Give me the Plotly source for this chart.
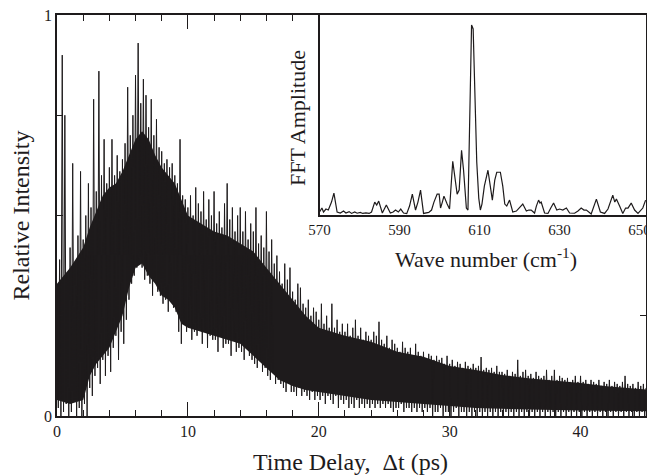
import plotly.graph_objects as go

# ---------------- main trace: time-resolved intensity ----------------
# signal, one value every 0.1 ps from 0 to 45 ps
intensity = [
    0.30, 0.02, 0.39, 0.00, 0.90, 0.01, 0.75, 0.03, 0.35, 0.00,
    0.42, 0.01, 0.63, 0.04, 0.38, 0.00, 0.45, 0.02, 0.61, 0.00,
    0.44, 0.03, 0.50, 0.00, 0.58, 0.07, 0.52, 0.05, 0.79, 0.10,
    0.56, 0.12, 0.86, 0.08, 0.60, 0.14, 0.69, 0.10, 0.58, 0.15,
    0.62, 0.11, 0.69, 0.17, 0.60, 0.20, 0.65, 0.14, 0.61, 0.21,
    0.64, 0.18, 0.68, 0.24, 0.82, 0.29, 0.70, 0.33, 0.75, 0.35,
    0.85, 0.37, 0.93, 0.38, 0.78, 0.37, 0.84, 0.34, 0.80, 0.35,
    0.72, 0.33, 0.79, 0.30, 0.70, 0.34, 0.74, 0.31, 0.67, 0.30,
    0.66, 0.28, 0.63, 0.29, 0.64, 0.26, 0.62, 0.29, 0.63, 0.27,
    0.60, 0.26, 0.58, 0.21, 0.69, 0.18, 0.55, 0.23, 0.54, 0.21,
    0.52, 0.22, 0.55, 0.19, 0.50, 0.21, 0.57, 0.20, 0.53, 0.22,
    0.51, 0.18, 0.56, 0.21, 0.49, 0.17, 0.54, 0.20, 0.50, 0.19,
    0.56, 0.19, 0.48, 0.16, 0.51, 0.20, 0.47, 0.17, 0.53, 0.18,
    0.58, 0.18, 0.49, 0.15, 0.52, 0.19, 0.46, 0.16, 0.50, 0.17,
    0.52, 0.16, 0.46, 0.14, 0.51, 0.17, 0.44, 0.15, 0.48, 0.14,
    0.46, 0.13, 0.52, 0.12, 0.43, 0.14, 0.45, 0.11, 0.42, 0.12,
    0.51, 0.10, 0.41, 0.09, 0.44, 0.11, 0.38, 0.08, 0.40, 0.09,
    0.36, 0.08, 0.33, 0.07, 0.38, 0.06, 0.34, 0.08, 0.37, 0.06,
    0.31, 0.06, 0.29, 0.05, 0.33, 0.07, 0.32, 0.05, 0.28, 0.06,
    0.27, 0.05, 0.29, 0.04, 0.25, 0.06, 0.27, 0.04, 0.26, 0.05,
    0.24, 0.04, 0.28, 0.05, 0.23, 0.03, 0.25, 0.05, 0.22, 0.04,
    0.28, 0.03, 0.22, 0.05, 0.24, 0.02, 0.21, 0.04, 0.23, 0.03,
    0.21, 0.04, 0.23, 0.02, 0.20, 0.03, 0.22, 0.02, 0.24, 0.04,
    0.20, 0.02, 0.22, 0.03, 0.19, 0.02, 0.21, 0.03, 0.20, 0.02,
    0.19, 0.03, 0.21, 0.02, 0.20, 0.03, 0.235, 0.02, 0.19, 0.03,
    0.18, 0.02, 0.20, 0.03, 0.17, 0.02, 0.19, 0.01, 0.18, 0.02,
    0.17, 0.02, 0.16, 0.03, 0.185, 0.01, 0.17, 0.02, 0.16, 0.02,
    0.17, 0.01, 0.15, 0.02, 0.18, 0.01, 0.16, 0.02, 0.15, 0.01,
    0.16, 0.02, 0.14, 0.01, 0.155, 0.02, 0.15, 0.00, 0.14, 0.01,
    0.15, 0.01, 0.14, 0.02, 0.145, 0.00, 0.13, 0.01, 0.15, 0.01,
    0.13, 0.00, 0.14, 0.01, 0.125, 0.02, 0.135, 0.00, 0.13, 0.01,
    0.12, 0.01, 0.135, 0.00, 0.125, 0.01, 0.12, 0.00, 0.13, 0.01,
    0.12, 0.00, 0.125, 0.01, 0.147, 0.00, 0.115, 0.01, 0.12, 0.00,
    0.115, 0.01, 0.12, 0.00, 0.11, 0.01, 0.125, 0.00, 0.11, 0.01,
    0.11, 0.00, 0.105, 0.01, 0.115, 0.00, 0.10, 0.01, 0.11, 0.00,
    0.105, 0.01, 0.14, 0.00, 0.10, 0.01, 0.11, 0.00, 0.115, 0.01,
    0.10, 0.00, 0.105, 0.01, 0.095, 0.00, 0.11, 0.01, 0.10, 0.00,
    0.095, 0.01, 0.10, 0.00, 0.115, 0.01, 0.09, 0.00, 0.10, 0.01,
    0.115, 0.00, 0.09, 0.01, 0.10, 0.00, 0.095, 0.01, 0.09, 0.00,
    0.095, 0.01, 0.085, 0.00, 0.09, 0.01, 0.10, 0.00, 0.085, 0.01,
    0.10, 0.00, 0.085, 0.01, 0.09, 0.00, 0.08, 0.01, 0.09, 0.00,
    0.085, 0.01, 0.08, 0.00, 0.09, 0.01, 0.075, 0.00, 0.085, 0.01,
    0.08, 0.00, 0.09, 0.01, 0.075, 0.00, 0.085, 0.01, 0.08, 0.00,
    0.075, 0.01, 0.085, 0.00, 0.10, 0.01, 0.08, 0.00, 0.075, 0.01,
    0.08, 0.00, 0.07, 0.01, 0.085, 0.00, 0.075, 0.01, 0.08, 0.00,
    0.07,
]
time_ps = [round(0.1 * i, 1) for i in range(len(intensity))]

# dense core of the trace (solid black band)
body_t = [0, 1, 2, 2.5, 3, 3.5, 4, 4.5, 5, 5.5, 6, 6.5, 7, 7.5, 8, 8.5,
          9, 9.5, 10, 11, 12, 13, 14, 15, 16, 17, 18, 19, 20, 21, 22, 24, 26, 28,
          30, 32, 34, 36, 38, 40, 42, 45]
body_hi = [0.33, 0.37, 0.42, 0.47, 0.51, 0.55, 0.57, 0.58, 0.61, 0.65,
           0.69, 0.71, 0.69, 0.65, 0.62, 0.60, 0.58, 0.54, 0.50, 0.48,
           0.46, 0.45, 0.43, 0.41, 0.37, 0.33, 0.29, 0.25, 0.22, 0.21,
           0.20, 0.185, 0.16, 0.148, 0.125, 0.115, 0.102, 0.094, 0.088,
           0.082, 0.074, 0.066]
body_lo = [0.04, 0.03, 0.04, 0.10, 0.13, 0.15, 0.17, 0.21, 0.25, 0.32,
           0.37, 0.38, 0.35, 0.33, 0.30, 0.29, 0.27, 0.23, 0.22, 0.21,
           0.20, 0.19, 0.18, 0.15, 0.12, 0.09, 0.075, 0.065, 0.06, 0.055,
           0.05, 0.04, 0.035, 0.03, 0.025, 0.02, 0.018, 0.016, 0.015,
           0.014, 0.013, 0.012]

x_tickvals = [0, 10, 20, 30, 40]
y_tickvals = [0, 1]

# ---------------- inset: FFT spectrum ----------------
wavenumber = [570.0, 570.6, 571.0, 571.6, 572.2, 573.0, 573.6, 574.4, 575.2, 576.0,
              576.6, 577.4, 578.0, 578.8, 579.4, 580.2, 580.8, 581.6, 582.4, 583.0,
              583.8, 584.3, 584.8, 585.7, 586.7, 587.7, 588.4, 589.0, 589.7, 590.3,
              591.0, 591.8, 592.5, 593.2, 594.0, 594.6, 595.25, 596.0, 597.3, 598.0,
              598.6, 599.4, 599.9, 600.25, 600.7, 601.1, 601.9, 602.5, 603.3, 603.8,
              604.4, 604.9, 605.5, 606.0, 606.7, 607.1, 608.0, 608.4, 609.3, 609.8,
              610.2, 610.6, 611.2, 612.1, 612.6, 613.2, 613.8, 614.3, 615.2, 615.8,
              616.3, 616.8, 617.5, 618.3, 619.2, 620.0, 620.8, 621.7, 622.3, 622.9,
              623.75, 624.2, 624.75, 625.1, 625.4, 626.25, 627.1, 627.8, 628.5, 629.3,
              630.0, 630.8, 631.7, 632.5, 633.75, 634.6, 635.4, 636.1, 636.7, 637.9,
              638.6, 639.2, 640.2, 641.25, 642.1, 642.8, 643.3, 643.8, 644.2, 645.0,
              645.8, 646.5, 647.1, 647.9, 648.75, 649.6, 650.4, 650.8, 651.5]
fft_amp = [0.01, 0.03, 0.01, 0.025, 0.02, 0.06, 0.105, 0.01, 0.005, 0.015,
           0.005, 0.012, 0.003, 0.01, 0.004, 0.008, 0.003, 0.006, 0.003, 0.01,
           0.06, 0.045, 0.065, 0.005, 0.045, 0.005, 0.01, 0.02, 0.01, 0.025,
           0.005, 0.002, 0.04, 0.10, 0.02, 0.06, 0.12, 0.003, 0.008, 0.02,
           0.06, 0.10, 0.10, 0.03, 0.06, 0.09, 0.05, 0.025, 0.265, 0.18,
           0.10, 0.12, 0.32, 0.22, 0.03, 0.02, 0.95, 0.93, 0.26, 0.08,
           0.02, 0.05, 0.14, 0.22, 0.16, 0.07, 0.17, 0.21, 0.21, 0.14,
           0.05, 0.04, 0.07, 0.01, 0.015, 0.03, 0.05, 0.015, 0.02, 0.02,
           0.005, 0.04, 0.07, 0.055, 0.06, 0.005, 0.003, 0.03, 0.055, 0.02,
           0.025, 0.02, 0.03, 0.005, 0.004, 0.015, 0.03, 0.02, 0.02, 0.0,
           0.04, 0.075, 0.01, 0.003, 0.025, 0.06, 0.095, 0.06, 0.075, 0.04,
           0.003, 0.03, 0.03, 0.055, 0.02, 0.003, 0.02, 0.03, 0.07]
inset_tickvals = [570, 590, 610, 630, 650]

INK = "#1e1b1c"
FONT = "Liberation Serif"

fig = go.Figure()

fig.add_trace(go.Scatter(x=body_t, y=body_lo, mode="lines", line=dict(width=0, color=INK),
                         hoverinfo="skip", showlegend=False))
fig.add_trace(go.Scatter(x=body_t, y=body_hi, mode="lines", line=dict(width=0, color=INK),
                         fill="tonexty", fillcolor=INK, hoverinfo="skip", showlegend=False))
fig.add_trace(go.Scatter(x=time_ps, y=intensity, mode="lines",
                         line=dict(width=1, color=INK), showlegend=False))

fig.add_trace(go.Scatter(x=wavenumber, y=fft_amp, mode="lines", xaxis="x2", yaxis="y2",
                         line=dict(width=1.2, color=INK), showlegend=False))

axis_common = dict(showgrid=False, zeroline=False, showline=True, linecolor=INK,
                   linewidth=1.5, mirror="allticks", ticks="inside", tickcolor=INK,
                   automargin=False,
                   tickfont=dict(family=FONT, size=16, color=INK))

fig.update_layout(
    width=647, height=475,
    margin=dict(l=57, r=1, t=15, b=59),
    paper_bgcolor="white", plot_bgcolor="white",
    font=dict(family=FONT, color=INK),
    xaxis=dict(range=[0, 45], domain=[0, 1], tickvals=x_tickvals, ticklen=14,
               tickwidth=1, minor=dict(dtick=2, tick0=0, ticklen=6, ticks="inside",
                                       tickcolor=INK, tickwidth=1),
               **axis_common),
    yaxis=dict(range=[0, 1], domain=[0, 1], tickvals=y_tickvals,
               ticklen=6, tickwidth=1,
               minor=dict(dtick=0.25, tick0=0, ticklen=6, ticks="inside",
                          tickcolor=INK, tickwidth=1),
               **axis_common),
    xaxis2=dict(range=[570, 651.6], domain=[0.4457, 1.0], anchor="y2",
                showgrid=False, zeroline=False, showline=True, linecolor=INK,
                linewidth=1.5, mirror=True, ticks="", tickvals=inset_tickvals,
                automargin=False, ticklabeloverflow="allow",
                tickfont=dict(family=FONT, size=15, color=INK)),
    yaxis2=dict(range=[-0.005, 1.0], domain=[0.5012, 1.0], anchor="x2",
                showgrid=False, zeroline=False, showline=True, linecolor=INK,
                linewidth=1.5, mirror=True, ticks="", showticklabels=False,
                automargin=False),
)

fig.add_annotation(text="Time Delay,  \u0394t (ps)", xref="paper", yref="paper",
                   x=0.4975, y=-0.1147, showarrow=False, xanchor="center", yanchor="middle",
                   font=dict(family=FONT, size=24, color=INK))
fig.add_annotation(text="Relative Intensity", xref="paper", yref="paper",
                   x=-0.0628, y=0.5, showarrow=False, textangle=-90,
                   xanchor="center", yanchor="middle",
                   font=dict(family=FONT, size=24, color=INK))
fig.add_annotation(text="Wave number (cm<sup>-1</sup>)", xref="paper", yref="paper",
                   x=0.728, y=0.394, showarrow=False, xanchor="center", yanchor="middle",
                   font=dict(family=FONT, size=22, color=INK))
fig.add_annotation(text="FFT Amplitude", xref="paper", yref="paper",
                   x=0.408, y=0.744, showarrow=False, textangle=-90,
                   xanchor="center", yanchor="middle",
                   font=dict(family=FONT, size=22, color=INK))

fig.write_html("out.html", config={"displayModeBar": False},
               post_script="document.body.style.margin='0';"
                           "document.body.style.overflow='hidden';")
